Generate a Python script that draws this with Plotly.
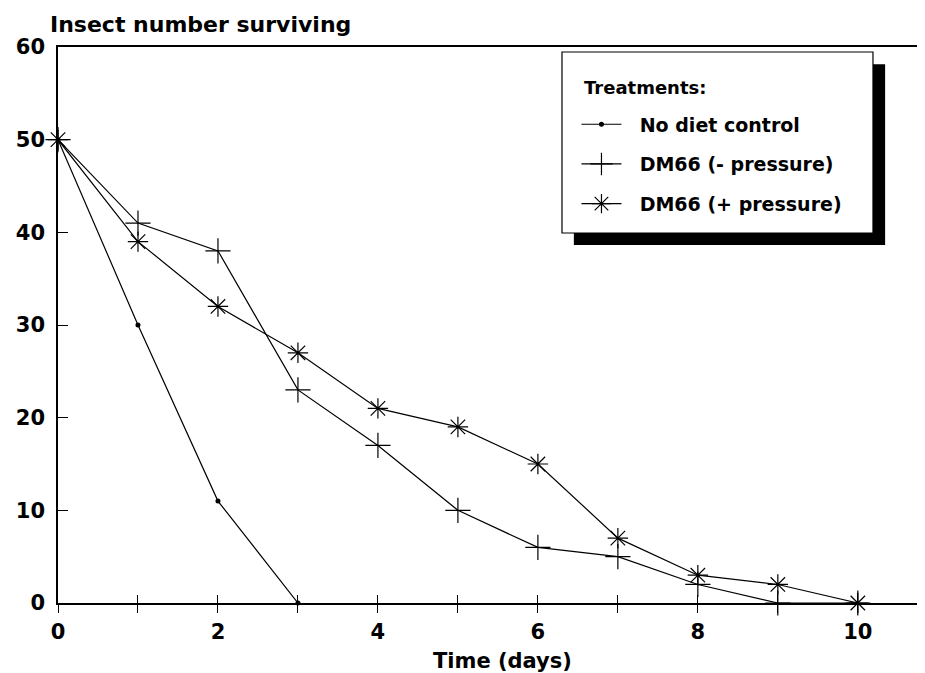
import plotly.graph_objects as go

# survival counts
days = [0, 1, 2, 3, 4, 5, 6, 7, 8, 9, 10]
no_diet_days = [0, 1, 2, 3]
no_diet = [50, 30, 11, 0]
dm66_minus = [50, 41, 38, 23, 17, 10, 6, 5, 2, 0, 0]
dm66_plus = [50, 39, 32, 27, 21, 19, 15, 7, 3, 2, 0]

x_ticks = list(range(0, 11))
x_labels = [str(d) if d % 2 == 0 else "" for d in x_ticks]
y_ticks = [0, 10, 20, 30, 40, 50, 60]

FONT = "DejaVu Sans"
PAD = "&nbsp;&nbsp;"

fig = go.Figure()

fig.add_trace(go.Scatter(
    x=no_diet_days, y=no_diet, name=PAD + "No diet control",
    mode="lines+markers", legendgroup="a",
    line=dict(color="black", width=1.2),
    marker=dict(symbol="circle", size=5, color="black"),
    cliponaxis=False))
fig.add_trace(go.Scatter(
    x=days, y=dm66_minus, name=PAD + "DM66 (- pressure)",
    mode="lines+markers", legendgroup="b",
    line=dict(color="black", width=1.2),
    marker=dict(symbol="cross-thin", size=18, line=dict(color="black", width=1.2)),
    cliponaxis=False))
fig.add_trace(go.Scatter(
    x=days, y=dm66_plus, name=PAD + "DM66 (+ pressure)",
    mode="lines+markers", legendgroup="c",
    line=dict(color="black", width=1.2),
    marker=dict(symbol="asterisk", size=17, line=dict(color="black", width=1.2)),
    cliponaxis=False))

# legend box with a heavy drop shadow
fig.add_shape(type="rect", xref="paper", yref="paper",
              x0=0.595, x1=0.954, y0=0.644, y1=0.969,
              fillcolor="black", line=dict(width=0))
fig.add_shape(type="rect", xref="paper", yref="paper",
              x0=0.5813, x1=0.940, y0=0.6655, y1=0.991,
              fillcolor="white", line=dict(color="black", width=1.2))

fig.add_annotation(text="Treatments:", xref="paper", yref="paper",
                   x=0.604, y=0.927, xanchor="left", yanchor="middle",
                   showarrow=False, font=dict(family=FONT, size=18, color="black", weight="bold"))
fig.add_annotation(text="Insect number surviving", xref="paper", yref="paper",
                   x=-0.011, y=1.014, xanchor="left", yanchor="bottom",
                   showarrow=False, font=dict(family=FONT, size=22, color="black", weight="bold"))
fig.add_annotation(text="Time (days)", xref="paper", yref="paper",
                   x=0.513, y=-0.079, xanchor="center", yanchor="top",
                   showarrow=False, font=dict(family=FONT, size=21, color="black", weight="bold"))

# the page body adds an 8px margin, so the figure is drawn 8px smaller
fig.update_layout(
    width=917, height=665,
    margin=dict(l=50, r=0, t=39, b=70),
    paper_bgcolor="white", plot_bgcolor="white",
    font=dict(family=FONT, size=20, color="black", weight="bold"),
    legend=dict(
        x=0.598, y=0.895, xanchor="left", yanchor="top",
        bgcolor="rgba(0,0,0,0)", borderwidth=0,
        font=dict(size=19), itemwidth=40,
        traceorder="grouped", tracegroupgap=12,
    ),
    xaxis=dict(
        range=[0, 10.84], tickvals=x_ticks, ticktext=x_labels,
        ticks="outside", ticklen=8, tickwidth=1, tickcolor="black",
        ticklabelstandoff=1,
        showline=True, linecolor="black", linewidth=1.5, mirror=True,
        showgrid=False, zeroline=False,
        tickfont=dict(size=21),
    ),
    xaxis2=dict(
        overlaying="x", matches="x", anchor="y", side="bottom",
        tickvals=x_ticks, ticks="inside", ticklen=8, tickwidth=1, tickcolor="black",
        showticklabels=False, showline=False, showgrid=False, zeroline=False,
    ),
    yaxis=dict(
        range=[0, 60], tickvals=y_ticks,
        ticks="inside", ticklen=10, tickwidth=1, tickcolor="black",
        ticklabelstandoff=7,
        showline=True, linecolor="black", linewidth=1.5,
        showgrid=False, zeroline=False,
        tickfont=dict(size=21),
    ),
)

# invisible trace so the second x axis gets drawn
fig.add_trace(go.Scatter(x=[0], y=[0], xaxis="x2", mode="markers",
                         marker=dict(opacity=0), showlegend=False, hoverinfo="skip"))

fig.write_html("out.html")
